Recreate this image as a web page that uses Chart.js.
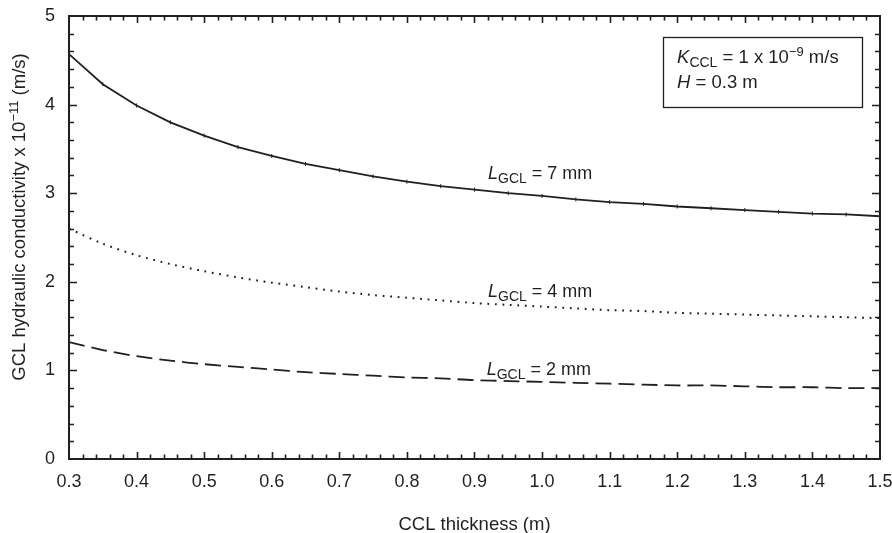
<!DOCTYPE html>
<html>
<head>
<meta charset="utf-8">
<script src="https://cdn.jsdelivr.net/npm/chart.js@4"></script>
<style>
html,body{margin:0;padding:0;background:#fff;}
#wrap{width:892px;height:533px;}
</style>
</head>
<body>
<div id="wrap"><canvas id="c" width="892" height="533"></canvas></div>
<script>
const thickness = [0.3,0.35,0.4,0.45,0.5,0.55,0.6,0.65,0.7,0.75,0.8,0.85,0.9,0.95,1.0,1.05,1.1,1.15,1.2,1.25,1.3,1.35,1.4,1.45,1.5];
const kGcl7mm = [4.57,4.23,3.99,3.80,3.65,3.52,3.42,3.33,3.26,3.19,3.13,3.08,3.04,3.00,2.97,2.93,2.90,2.88,2.85,2.83,2.81,2.79,2.77,2.76,2.74];
const kGcl4mm = [2.60,2.43,2.30,2.20,2.12,2.05,1.99,1.94,1.89,1.85,1.82,1.79,1.76,1.74,1.72,1.70,1.68,1.67,1.65,1.64,1.63,1.62,1.61,1.60,1.59];
const kGcl2mm = [1.32,1.23,1.16,1.11,1.07,1.04,1.01,0.98,0.96,0.94,0.92,0.91,0.89,0.88,0.87,0.86,0.85,0.84,0.83,0.83,0.82,0.81,0.81,0.80,0.80];
const curveLabels = [
  {name:'7 mm', x:0.92, y:3.16},
  {name:'4 mm', x:0.92, y:1.83},
  {name:'2 mm', x:0.918, y:0.948}
];
const xTickStep = 0.1, xMinorStep = 0.02, yTickStep = 1, yMinorStep = 0.2;

const INK = '#231f20';
const FONT = '"Liberation Sans", Arial, Helvetica, sans-serif';

function pts(ys){ return thickness.map((x,i)=>({x:x, y:ys[i]})); }

function drawRich(ctx, parts, x, y){
  let cx = x;
  for (const p of parts){
    ctx.font = (p.italic?'italic ':'') + p.size + 'px ' + FONT;
    ctx.fillText(p.t, cx, y + (p.dy||0));
    cx += ctx.measureText(p.t).width;
  }
  return cx - x;
}
function richWidth(ctx, parts){
  let w=0;
  for (const p of parts){ ctx.font=(p.italic?'italic ':'')+p.size+'px '+FONT; w+=ctx.measureText(p.t).width; }
  return w;
}

const framePlugin = {
  id:'frame',
  afterDraw(chart){
    const ctx = chart.ctx, a = chart.chartArea;
    const xs = chart.scales.x, ys = chart.scales.y;
    ctx.save();
    ctx.strokeStyle = INK; ctx.fillStyle = INK;
    ctx.lineWidth = 2;
    ctx.strokeRect(a.left, a.top, a.right-a.left, a.bottom-a.top);
    ctx.lineWidth = 1.6;
    ctx.beginPath();
    const nx = Math.round((xs.max-xs.min)/xMinorStep);
    for (let i=1;i<nx;i++){
      const v = xs.min + i*xMinorStep;
      const major = (i % Math.round(xTickStep/xMinorStep))===0;
      const L = major?7:4.5;
      const px = Math.round(xs.getPixelForValue(v))+0.5;
      ctx.moveTo(px, a.bottom); ctx.lineTo(px, a.bottom-L);
      ctx.moveTo(px, a.top); ctx.lineTo(px, a.top+L);
    }
    const ny = Math.round((ys.max-ys.min)/yMinorStep);
    for (let i=1;i<ny;i++){
      const v = ys.min + i*yMinorStep;
      const major = (i % Math.round(yTickStep/yMinorStep))===0;
      const L = major?8:5;
      const py = Math.round(ys.getPixelForValue(v))+0.5;
      ctx.moveTo(a.left, py); ctx.lineTo(a.left+L, py);
      ctx.moveTo(a.right, py); ctx.lineTo(a.right-L, py);
    }
    ctx.stroke();

    ctx.textBaseline = 'alphabetic'; ctx.textAlign='left';
    for (const c of curveLabels){
      const px = xs.getPixelForValue(c.x), py = ys.getPixelForValue(c.y);
      drawRich(ctx, [
        {t:'L', size:18, italic:true},
        {t:'GCL', size:14, dy:4},
        {t:' = '+c.name, size:18}
      ], px, py);
    }

    const bx = xs.getPixelForValue(1.179), by = ys.getPixelForValue(4.763);
    const bx2 = xs.getPixelForValue(1.473), by2 = ys.getPixelForValue(3.973);
    ctx.lineWidth = 1.3;
    ctx.strokeRect(Math.round(bx)+0.5, Math.round(by)+0.5, Math.round(bx2-bx), Math.round(by2-by));
    drawRich(ctx, [
      {t:'K', size:18.5, italic:true},
      {t:'CCL', size:14, dy:4},
      {t:' = 1 x 10', size:18.5},
      {t:'\u22129', size:13, dy:-7},
      {t:' m/s', size:18.5}
    ], bx+14, by+26);
    drawRich(ctx, [
      {t:'H', size:18.5, italic:true},
      {t:' = 0.3 m', size:18.5}
    ], bx+14, by+51);

    ctx.font = '18.5px '+FONT; ctx.textAlign='center';
    ctx.fillText('CCL thickness (m)', (a.left+a.right)/2, 530);

    const yparts = [
      {t:'GCL hydraulic conductivity x 10', size:18.5},
      {t:'\u221211', size:13, dy:-7},
      {t:' (m/s)', size:18.5}
    ];
    ctx.textAlign='left';
    const w = richWidth(ctx, yparts);
    ctx.translate(25, 217);
    ctx.rotate(-Math.PI/2);
    drawRich(ctx, yparts, -w/2, 0);
    ctx.restore();
  }
};

new Chart(document.getElementById('c'), {
  type:'scatter',
  data:{
    datasets:[
      {label:'L_GCL = 7 mm', data:pts(kGcl7mm), showLine:true, borderColor:INK, borderWidth:1.8,
       pointStyle:'line', rotation:90, pointRadius:2, pointBorderWidth:1, pointBorderColor:INK, pointBackgroundColor:INK, tension:0},
      {label:'L_GCL = 4 mm', data:pts(kGcl4mm), showLine:true, borderColor:INK, borderWidth:2,
       borderDash:[1.8,5.7], pointRadius:0, tension:0.3},
      {label:'L_GCL = 2 mm', data:pts(kGcl2mm), showLine:true, borderColor:INK, borderWidth:1.8,
       borderDash:[16,7], pointRadius:0, tension:0.3}
    ]
  },
  options:{
    responsive:false, animation:false, devicePixelRatio:1,
    layout:{padding:{left:0, right:12, top:16, bottom:0}},
    plugins:{legend:{display:false}, tooltip:{enabled:false}},
    scales:{
      x:{type:'linear', min:0.3, max:1.5,
         grid:{display:false, drawTicks:false}, border:{display:false},
         ticks:{stepSize:xTickStep, padding:12, color:INK, font:{family:FONT, size:18},
                callback:v=>Number(v).toFixed(1), maxRotation:0, autoSkip:false},
         afterFit:s=>{s.height=74; s.paddingLeft=0; s.paddingRight=0;}},
      y:{type:'linear', min:0, max:5,
         grid:{display:false, drawTicks:false}, border:{display:false},
         ticks:{stepSize:yTickStep, padding:14, color:INK, font:{family:FONT, size:18},
                callback:v=>String(v)},
         afterFit:s=>{s.width=69; s.paddingTop=0; s.paddingBottom=0;}}
    }
  },
  plugins:[framePlugin]
});
</script>
</body>
</html>
